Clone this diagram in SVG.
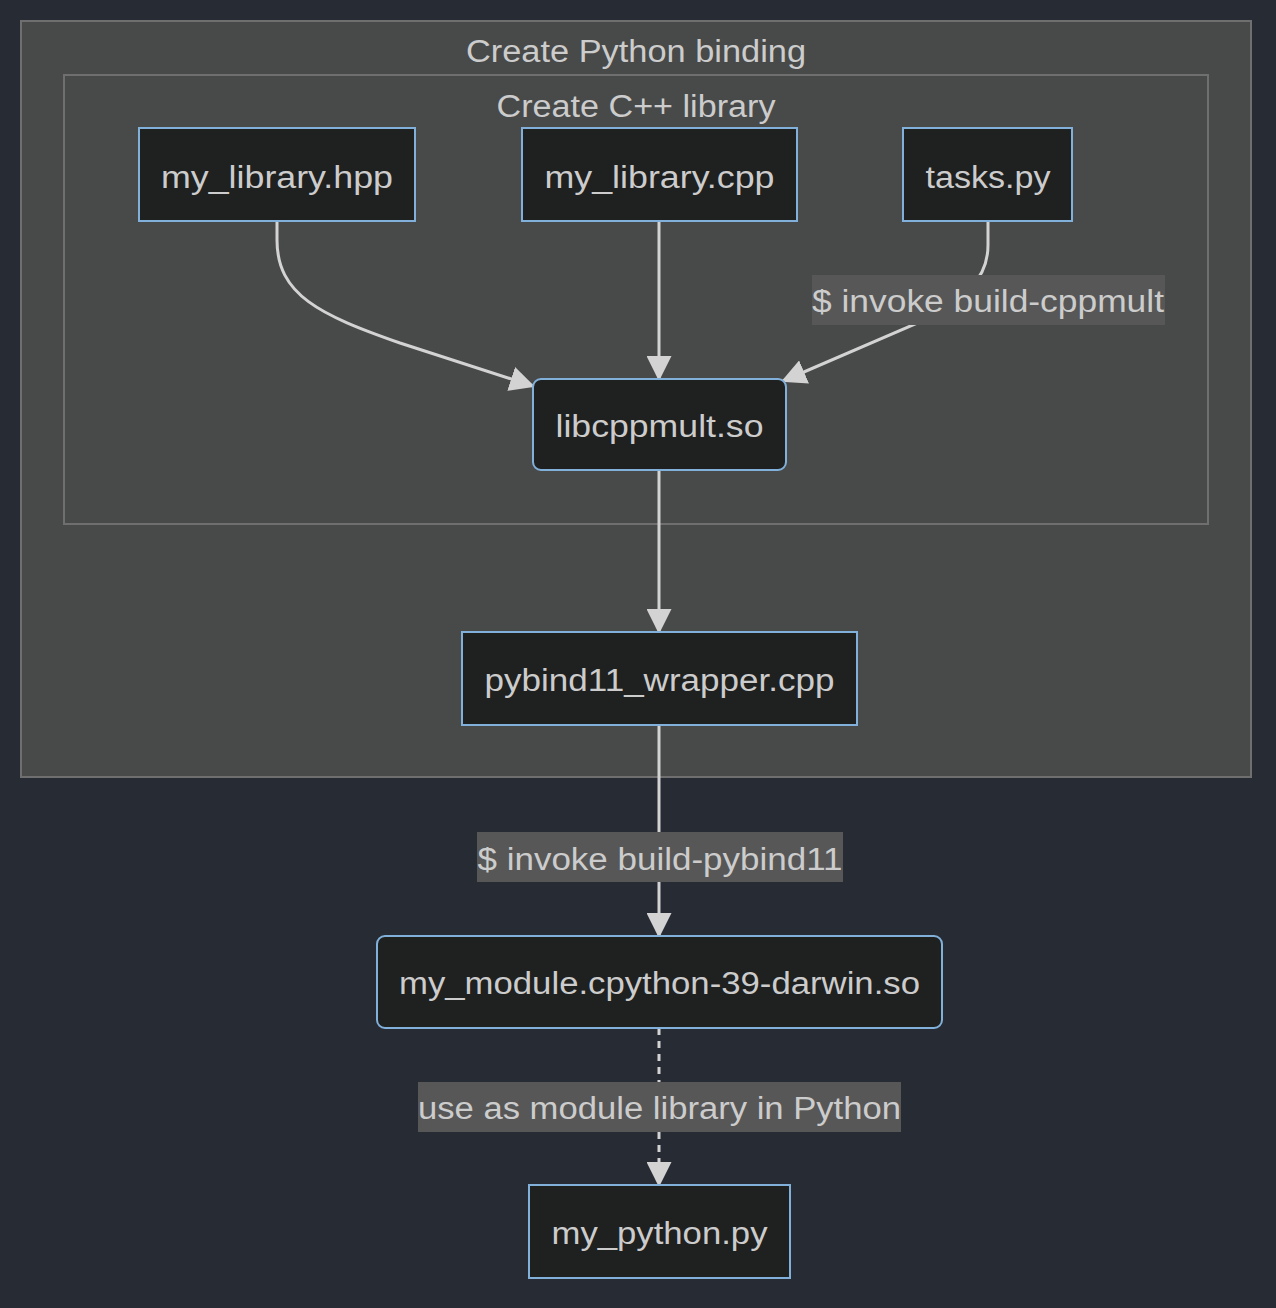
<svg xmlns="http://www.w3.org/2000/svg" width="1276" height="1308" viewBox="0 0 1276 1308">
<style>
.bg{fill:#272b34}
.cluster{fill:#484949;stroke:#6f6f6f;stroke-width:2}
.node{fill:#1f2020;stroke:#81b1db;stroke-width:2}
.t{font-family:"Liberation Sans","DejaVu Sans",sans-serif;font-size:31px;fill:#cccccc;text-anchor:middle}
.edge{fill:none;stroke:#d3d3d3;stroke-width:3}
.dash{stroke-dasharray:7 6}
.lblbg{fill:#575757}
</style>
<defs>
<marker id="arrow" viewBox="0 0 12 12" refX="11" refY="6" markerUnits="userSpaceOnUse" markerWidth="25" markerHeight="25" orient="auto">
<path d="M0,0 L12,6 L0,12 Z" fill="#d3d3d3"/>
</marker>
</defs>
<rect class="bg" x="0" y="0" width="1276" height="1308"/>
<g id="cluster-python-binding">
<rect class="cluster" x="21" y="21" width="1230" height="756"/>
<text class="t" x="636" y="62" textLength="340" lengthAdjust="spacingAndGlyphs">Create Python binding</text>
</g>
<g id="cluster-cpp-library">
<rect class="cluster" x="64" y="75" width="1144" height="449"/>
<text class="t" x="636" y="117" textLength="279" lengthAdjust="spacingAndGlyphs">Create C++ library</text>
</g>
<g id="edges">
<path class="edge" d="M277,221 V240 C277,295 320,315 400,343 L533,386" marker-end="url(#arrow)"/>
<path class="edge" d="M659,221 V379" marker-end="url(#arrow)"/>
<path class="edge" d="M988,221 V245 C988,280 965,298 920,322 L783,381" marker-end="url(#arrow)"/>
<path class="edge" d="M659,470 V632" marker-end="url(#arrow)"/>
<path class="edge" d="M659,725 V936" marker-end="url(#arrow)"/>
<path class="edge dash" d="M659,1028 V1185" marker-end="url(#arrow)"/>
<g id="edge-labels">
<rect class="lblbg" x="812" y="275" width="353" height="50"/>
<text class="t" x="988" y="312" textLength="352" lengthAdjust="spacingAndGlyphs">$ invoke build-cppmult</text>
<rect class="lblbg" x="477" y="832" width="366" height="50"/>
<text class="t" x="660" y="870" textLength="365" lengthAdjust="spacingAndGlyphs">$ invoke build-pybind11</text>
<rect class="lblbg" x="418" y="1082" width="483" height="50"/>
<text class="t" x="659.5" y="1119" textLength="483" lengthAdjust="spacingAndGlyphs">use as module library in Python</text>
</g>
</g>
<g id="node-hpp">
<rect class="node" x="139" y="128" width="276" height="93"/>
<text class="t" x="277" y="188" textLength="232" lengthAdjust="spacingAndGlyphs">my_library.hpp</text>
</g>
<g id="node-cpp">
<rect class="node" x="522" y="128" width="275" height="93"/>
<text class="t" x="659.5" y="188" textLength="230" lengthAdjust="spacingAndGlyphs">my_library.cpp</text>
</g>
<g id="node-tasks">
<rect class="node" x="903" y="128" width="169" height="93"/>
<text class="t" x="988" y="188" textLength="125" lengthAdjust="spacingAndGlyphs">tasks.py</text>
</g>
<g id="node-libcppmult">
<rect class="node" x="533" y="379" width="253" height="91" rx="8" ry="8"/>
<text class="t" x="659.5" y="437" textLength="208" lengthAdjust="spacingAndGlyphs">libcppmult.so</text>
</g>
<g id="node-pybind">
<rect class="node" x="462" y="632" width="395" height="93"/>
<text class="t" x="659.5" y="691" textLength="350" lengthAdjust="spacingAndGlyphs">pybind11_wrapper.cpp</text>
</g>
<g id="node-module">
<rect class="node" x="377" y="936" width="565" height="92" rx="8" ry="8"/>
<text class="t" x="659.5" y="994" textLength="521" lengthAdjust="spacingAndGlyphs">my_module.cpython-39-darwin.so</text>
</g>
<g id="node-python">
<rect class="node" x="529" y="1185" width="261" height="93"/>
<text class="t" x="659.5" y="1244" textLength="216" lengthAdjust="spacingAndGlyphs">my_python.py</text>
</g>
</svg>
